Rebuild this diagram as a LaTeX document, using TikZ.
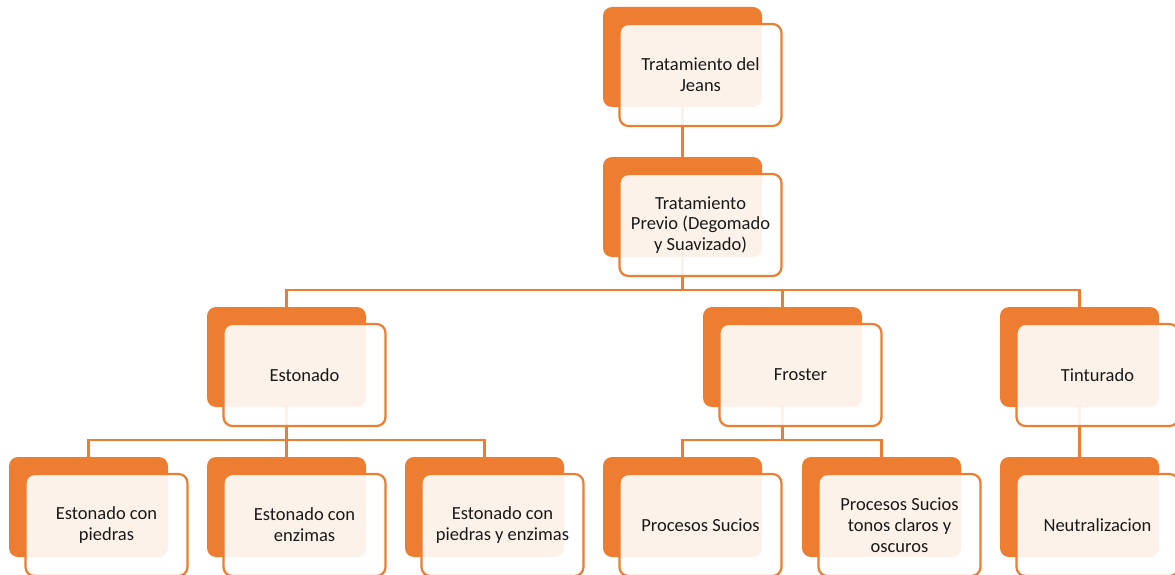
\documentclass[tikz,border=0pt]{standalone}
\usepackage{fontspec}
\setmainfont{Carlito}
\usetikzlibrary{positioning}

\definecolor{jeansorange}{RGB}{237,125,49}

\tikzset{
    backbox/.style={fill=jeansorange, rounded corners=9pt, minimum width=159pt, minimum height=100pt, inner sep=0pt},
    frontbox/.style={draw=jeansorange, line width=2.2pt, fill=white, fill opacity=0.9, text opacity=1,
        rounded corners=9pt, minimum width=162pt, minimum height=102pt, inner sep=0pt, align=center,
        font=\fontsize{18.5}{20.8}\selectfont, text=black!90},
    link/.style={draw=jeansorange, line width=2.2pt}
}

\begin{document}
\begin{tikzpicture}[x=1pt, y=-1pt]
    \useasboundingbox (0,0) rectangle (1175,575); % page size of the reference

    % orange boxes at the back
    \foreach \n/\x/\y in {jeans/682.5/57, previo/682.5/207,
                          estonado/286.5/357, froster/782.5/357, tinturado/1079.5/357,
                          piedras/88.5/507, enzimas/286.5/507, ambos/484.5/507,
                          sucios/682.5/507, tonos/881.5/507, neutral/1079.5/507}
        \node[backbox] (\n) at (\x,\y) {};

    % connectors, under the front boxes
    \draw[link] (jeans.south) -- (previo.north);
    \draw[link] (previo.south) -- ++(0,33) -| (estonado.north);
    \draw[link] (previo.south) -- ++(0,33) -| (froster.north);
    \draw[link] (previo.south) -- ++(0,33) -| (tinturado.north);
    \draw[link] (estonado.south) -- ++(0,33) -| (piedras.north);
    \draw[link] (estonado.south) -- (enzimas.north);
    \draw[link] (estonado.south) -- ++(0,33) -| (ambos.north);
    \draw[link] (froster.south) -- ++(0,33) -| (sucios.north);
    \draw[link] (froster.south) -- ++(0,33) -| (tonos.north);
    \draw[link] (tinturado.south) -- (neutral.north);

    % light boxes in front, with the texts
    \node[frontbox] (jeansf) at ([shift={(18,18)}]jeans) {Tratamiento del\\Jeans};
    \node[frontbox] (previof) at ([shift={(18,18)}]previo) {Tratamiento\\Previo (Degomado\\y Suavizado)};
    \node[frontbox] (estonadof) at ([shift={(18,18)}]estonado) {Estonado};
    \node[frontbox] (frosterf) at ([shift={(18,18)}]froster) {Froster};
    \node[frontbox] (tinturadof) at ([shift={(18,18)}]tinturado) {Tinturado};
    \node[frontbox] (piedrasf) at ([shift={(18,18)}]piedras) {Estonado con\\piedras};
    \node[frontbox] (enzimasf) at ([shift={(18,18)}]enzimas) {Estonado con\\enzimas};
    \node[frontbox] (ambosf) at ([shift={(18,18)}]ambos) {Estonado con\\piedras y enzimas};
    \node[frontbox] (suciosf) at ([shift={(18,18)}]sucios) {Procesos Sucios};
    \node[frontbox] (tonosf) at ([shift={(18,18)}]tonos) {Procesos Sucios\\tonos claros y\\oscuros};
    \node[frontbox] (neutralf) at ([shift={(18,18)}]neutral) {Neutralizacion};
\end{tikzpicture}
\end{document}
